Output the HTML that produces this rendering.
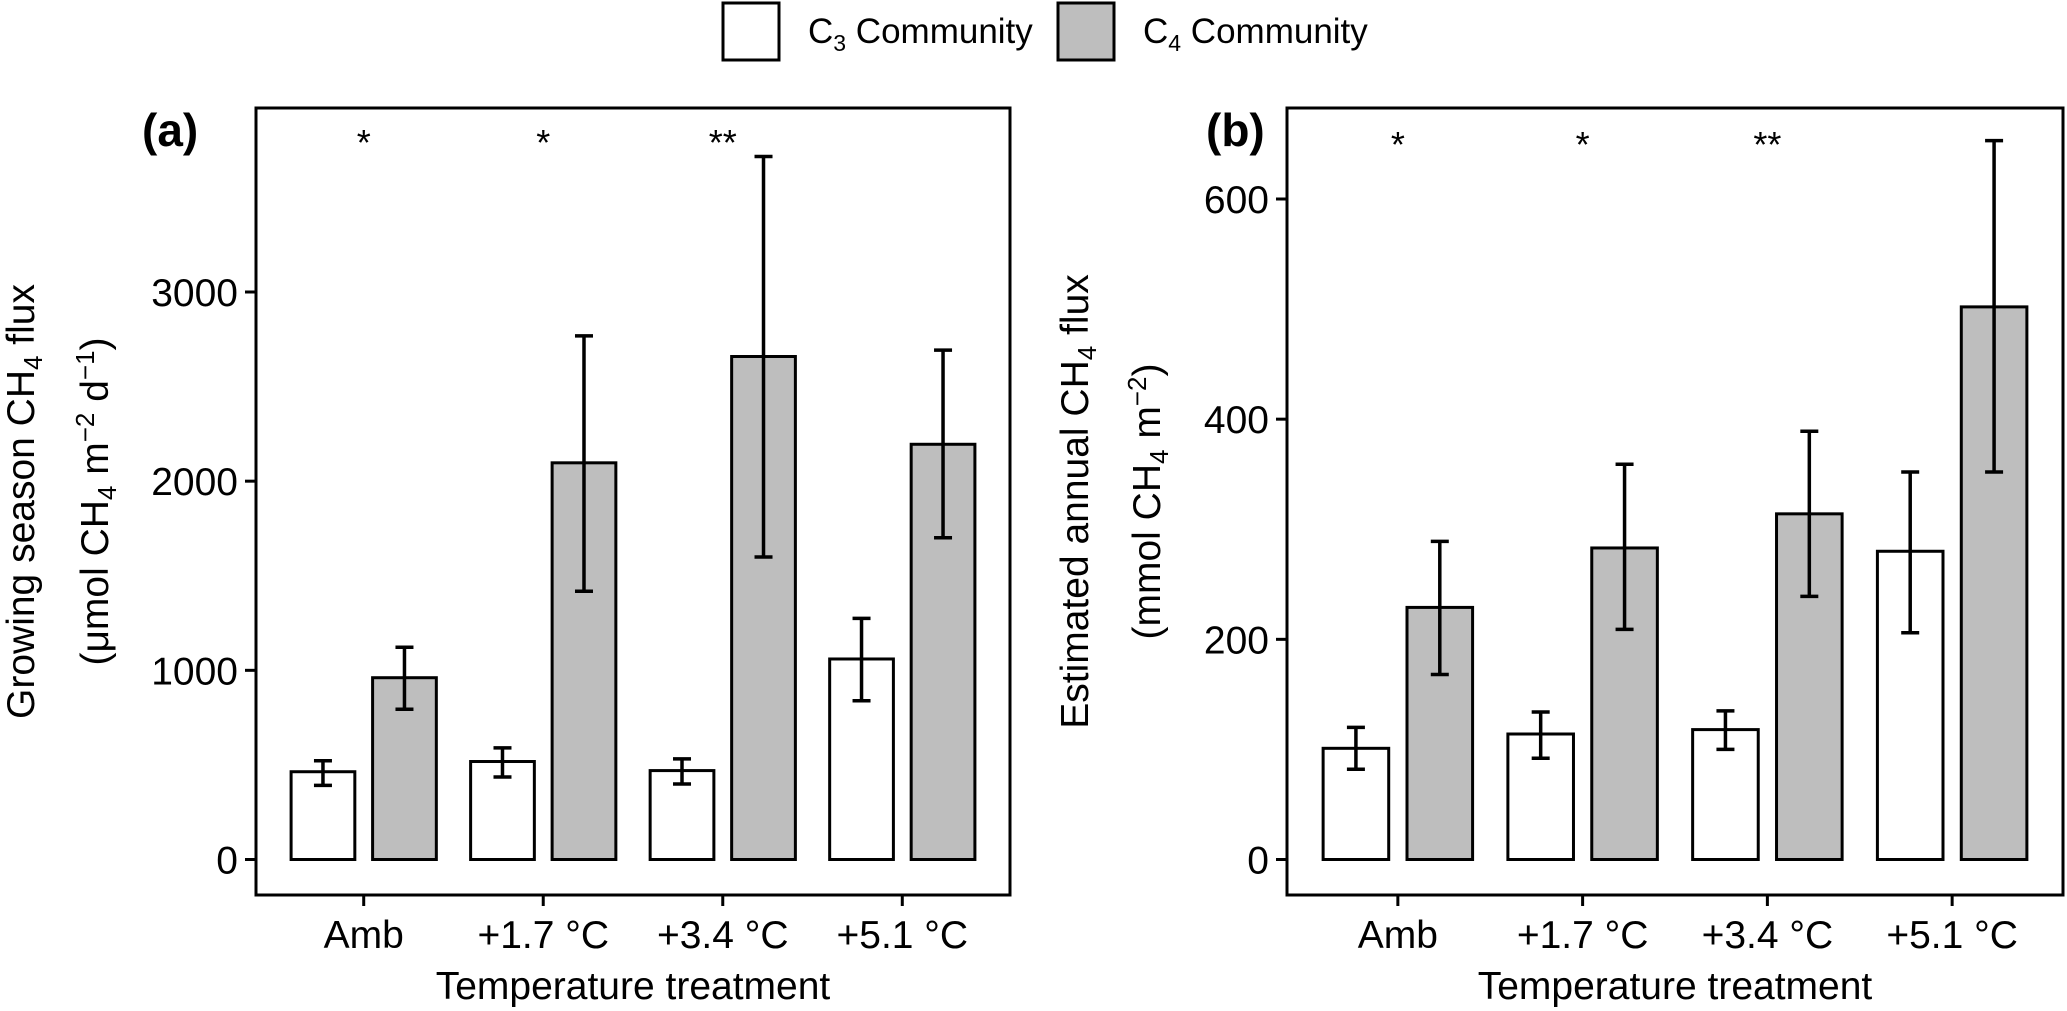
<!DOCTYPE html>
<html><head><meta charset="utf-8"><style>
html,body{margin:0;padding:0;background:#fff;}
svg{display:block;font-family:"Liberation Sans",Arial,sans-serif;}
</style></head><body>
<svg id="chart" width="2067" height="1011" viewBox="0 0 2067 1011" xmlns="http://www.w3.org/2000/svg">
  <g>
    <rect x="723" y="3" width="56" height="57" fill="#fff" stroke="#000" stroke-width="3"/>
    <text x="808" y="43" font-size="35">C<tspan font-size="23" dy="8">3</tspan><tspan dy="-8"> Community</tspan></text>
    <rect x="1058" y="3" width="56" height="57" fill="#bebebe" stroke="#000" stroke-width="3"/>
    <text x="1143" y="43" font-size="35">C<tspan font-size="23" dy="8">4</tspan><tspan dy="-8"> Community</tspan></text>
  </g>
  <g id="panelA"></g>
  <g id="panelB"></g>
</svg>
<script>
const categories = ["Amb", "+1.7 °C", "+3.4 °C", "+5.1 °C"];
const sigLabels = ["*", "*", "**", ""];
const aC3 = [464, 518, 470, 1060];
const aC3Lo = [392, 436, 399, 839];
const aC3Hi = [522, 590, 532, 1275];
const aC4 = [961, 2097, 2659, 2195];
const aC4Lo = [794, 1418, 1599, 1701];
const aC4Hi = [1122, 2768, 3716, 2693];
const aTicks = [0, 1000, 2000, 3000];
const bC3 = [101, 114, 118, 280];
const bC3Lo = [82, 92, 100, 206];
const bC3Hi = [120, 134, 135, 352];
const bC4 = [229, 283, 314, 502];
const bC4Lo = [168, 209, 239, 352];
const bC4Hi = [289, 359, 389, 653];
const bTicks = [0, 200, 400, 600];

const NS = "http://www.w3.org/2000/svg";
function mk(parent, tag, attrs){
  const e = document.createElementNS(NS, tag);
  for (const k in attrs) e.setAttribute(k, attrs[k]);
  parent.appendChild(e);
  return e;
}

function drawPanel(g, cfg){
  const {left,right,top,bottom,zeroY,pxPerUnit,ticks,c3,c3lo,c3hi,c4,c4lo,c4hi,tag,tagX,title1,title2,t1x,t2x,starY,key} = cfg;
  const n = categories.length;
  const step = (right-left)/(n+0.2);
  const xc = i => left + step*(0.6+i);
  const y = v => zeroY - v*pxPerUnit;
  const bw = step*0.355, off = step*0.227, cap = 9;

  const series = [[c3,c3lo,c3hi,"#ffffff","c3"],[c4,c4lo,c4hi,"#bebebe","c4"]];
  series.forEach((s,si)=>{
    s[0].forEach((v,i)=>{
      const cx = xc(i) + (si===0?-off:off);
      const r = mk(g,"rect",{x:cx-bw/2,y:y(v),width:bw,height:y(0)-y(v),fill:s[3],stroke:"#000","stroke-width":3});
      
      
      const eg = mk(g,"g",{stroke:"#000","stroke-width":3.5});
      
      
      mk(eg,"line",{x1:cx,x2:cx,y1:y(s[1][i]),y2:y(s[2][i])});
      mk(eg,"line",{x1:cx-cap,x2:cx+cap,y1:y(s[1][i]),y2:y(s[1][i])});
      mk(eg,"line",{x1:cx-cap,x2:cx+cap,y1:y(s[2][i]),y2:y(s[2][i])});
    });
  });
  sigLabels.forEach((s,i)=>{
    if(!s) return;
    const t = mk(g,"text",{x:xc(i),y:starY,"font-size":36,"text-anchor":"middle"});
    t.textContent = s;
    
    
  });
  const fr = mk(g,"rect",{x:left,y:top,width:right-left,height:bottom-top,fill:"none",stroke:"#000","stroke-width":3});
  
  
  ticks.forEach(t=>{
    mk(g,"line",{x1:left-11,x2:left,y1:y(t),y2:y(t),stroke:"#000","stroke-width":3});
    const tx = mk(g,"text",{x:left-18,y:y(t)+14,"font-size":39,"text-anchor":"end"});
    tx.textContent = t;
    
    
  });
  categories.forEach((c,i)=>{
    mk(g,"line",{x1:xc(i),x2:xc(i),y1:bottom,y2:bottom+11,stroke:"#000","stroke-width":3});
    const tx = mk(g,"text",{x:xc(i),y:948,"font-size":39,"text-anchor":"middle"});
    tx.textContent = c;
    
    
  });
  const xt = mk(g,"text",{x:(left+right)/2,y:999,"font-size":39,"text-anchor":"middle"});
  xt.textContent = "Temperature treatment";
  
  
  const tg = mk(g,"text",{x:tagX,y:146,"font-size":46,"font-weight":"bold"});
  tg.textContent = tag;
  
  
  const cy = (top+bottom)/2;
  const y1 = mk(g,"text",{x:t1x,y:cy,"font-size":39,"text-anchor":"middle",transform:`rotate(-90 ${t1x} ${cy})`});
  y1.innerHTML = title1;
  
  
  const y2 = mk(g,"text",{x:t2x,y:cy,"font-size":39,"text-anchor":"middle",transform:`rotate(-90 ${t2x} ${cy})`});
  y2.innerHTML = title2;
  
  
}

drawPanel(document.getElementById("panelA"),{
  left:256,right:1010,top:108,bottom:895,zeroY:859.5,pxPerUnit:(859.5-292)/3000,
  ticks:aTicks,c3:aC3,c3lo:aC3Lo,c3hi:aC3Hi,c4:aC4,c4lo:aC4Lo,c4hi:aC4Hi,
  tag:"(a)",tagX:142,starY:155,key:"a",
  title1:'Growing season CH<tspan font-size="26" dy="8">4</tspan><tspan dy="-8"> flux</tspan>',
  title2:'(μmol CH<tspan font-size="26" dy="8">4</tspan><tspan dy="-8"> m</tspan><tspan font-size="26" dy="-14">−2</tspan><tspan dy="14"> d</tspan><tspan font-size="26" dy="-14">−1</tspan><tspan dy="14">)</tspan>',
  t1x:34,t2x:108
});
drawPanel(document.getElementById("panelB"),{
  left:1287,right:2063,top:108,bottom:895,zeroY:859.5,pxPerUnit:(859.5-199)/600,
  ticks:bTicks,c3:bC3,c3lo:bC3Lo,c3hi:bC3Hi,c4:bC4,c4lo:bC4Lo,c4hi:bC4Hi,
  tag:"(b)",tagX:1206,starY:157,key:"b",
  title1:'Estimated annual CH<tspan font-size="26" dy="8">4</tspan><tspan dy="-8"> flux</tspan>',
  title2:'(mmol CH<tspan font-size="26" dy="8">4</tspan><tspan dy="-8"> m</tspan><tspan font-size="26" dy="-14">−2</tspan><tspan dy="14">)</tspan>',
  t1x:1088,t2x:1160
});
</script>
</body></html>
